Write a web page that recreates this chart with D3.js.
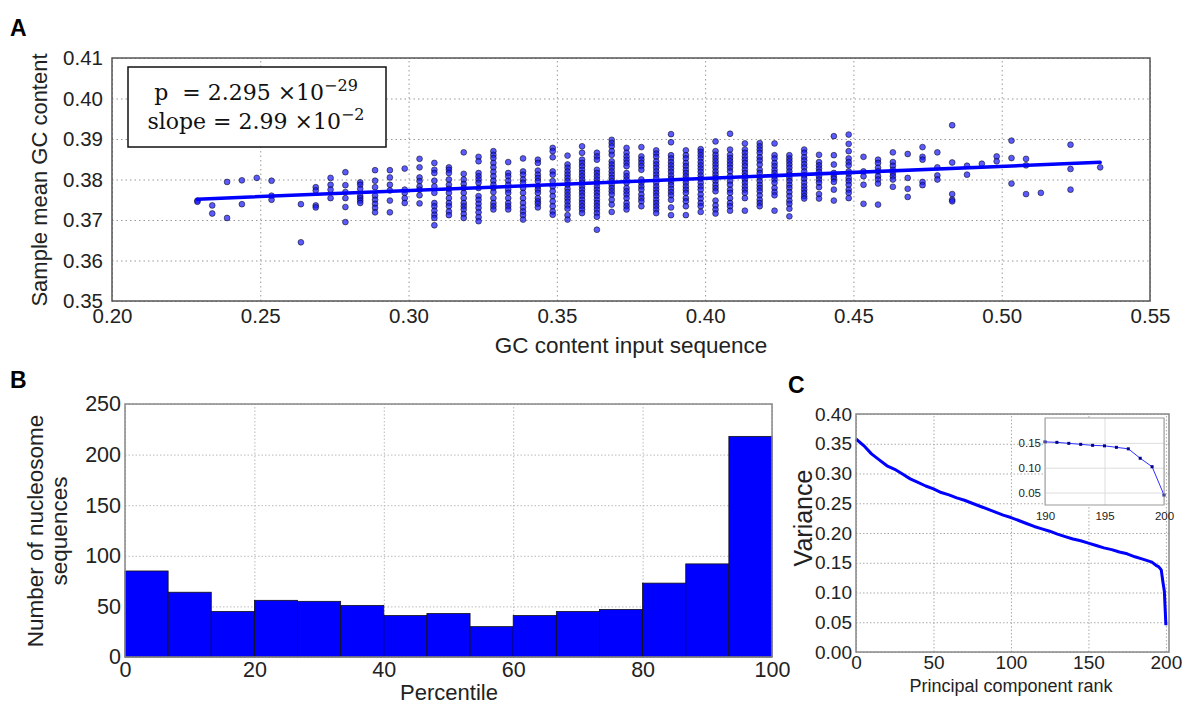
<!DOCTYPE html>
<html>
<head>
<meta charset="utf-8">
<script src="https://cdn.jsdelivr.net/npm/d3@7"></script>
<style>
  body { margin: 0; background: #fff; }
  svg { font-family: "Liberation Sans", Arial, sans-serif; }
</style>
</head>
<body>
<svg id="fig" width="1182" height="704"></svg>
<script>
// ---------- panel A: GC content of input vs sample mean GC (one column per input GC value)
const gcInput = [0.2288, 0.2338, 0.2388, 0.2438, 0.2488, 0.2538, 0.2637, 0.2687, 0.2737, 0.2787,
  0.2837, 0.2887, 0.2937, 0.2987, 0.3037, 0.3087, 0.3136, 0.3186, 0.3236, 0.3286,
  0.3336, 0.3386, 0.3436, 0.3486, 0.3536, 0.3585, 0.3635, 0.3685, 0.3735, 0.3785,
  0.3835, 0.3885, 0.3935, 0.3985, 0.4035, 0.4084, 0.4134, 0.4184, 0.4234, 0.4284,
  0.4334, 0.4384, 0.4434, 0.4484, 0.4534, 0.4583, 0.4633, 0.4683, 0.4733, 0.4783,
  0.4833, 0.4883, 0.4933, 0.4983, 0.5033, 0.5082, 0.5132, 0.5232, 0.5332]
const gcSample = [
  [0.3748, 0.3745],
  [0.3736, 0.3716],
  [0.3794, 0.3705],
  [0.3798, 0.3739],
  [0.3804],
  [0.3797, 0.3760, 0.3750],
  [0.3739, 0.3645],
  [0.3781, 0.3773, 0.3736, 0.3731],
  [0.3804, 0.3787, 0.3775, 0.3754],
  [0.3818, 0.3786, 0.3769, 0.3754, 0.3732, 0.3695],
  [0.3793, 0.3787, 0.3777, 0.3759, 0.3754, 0.3748, 0.3742],
  [0.3823, 0.3797, 0.3781, 0.3760, 0.3750, 0.3740, 0.3730, 0.3719],
  [0.3823, 0.3805, 0.3787, 0.3773, 0.3748, 0.3719],
  [0.3827, 0.3775, 0.3767, 0.3754, 0.3742],
  [0.3851, 0.3830, 0.3805, 0.3796, 0.3783, 0.3775, 0.3761, 0.3741],
  [0.3841, 0.3824, 0.3816, 0.3797, 0.3783, 0.3767, 0.3742, 0.3734, 0.3723, 0.3713, 0.3705, 0.3687],
  [0.3830, 0.3824, 0.3816, 0.3800, 0.3787, 0.3777, 0.3767, 0.3754, 0.3742, 0.3734, 0.3721, 0.3712],
  [0.3867, 0.3814, 0.3800, 0.3789, 0.3779, 0.3767, 0.3754, 0.3742, 0.3734, 0.3726, 0.3715, 0.3705],
  [0.3856, 0.3845, 0.3816, 0.3808, 0.3800, 0.3792, 0.3779, 0.3759, 0.3750, 0.3740, 0.3730, 0.3719, 0.3707, 0.3697],
  [0.3870, 0.3861, 0.3853, 0.3841, 0.3830, 0.3819, 0.3808, 0.3797, 0.3787, 0.3779, 0.3769, 0.3754, 0.3742, 0.3734, 0.3726],
  [0.3843, 0.3816, 0.3808, 0.3797, 0.3787, 0.3775, 0.3767, 0.3754, 0.3742, 0.3734, 0.3726],
  [0.3852, 0.3820, 0.3812, 0.3800, 0.3792, 0.3779, 0.3767, 0.3754, 0.3742, 0.3731, 0.3721, 0.3712, 0.3701],
  [0.3849, 0.3841, 0.3822, 0.3812, 0.3804, 0.3796, 0.3783, 0.3775, 0.3767, 0.3754, 0.3746, 0.3740, 0.3731],
  [0.3878, 0.3870, 0.3855, 0.3820, 0.3812, 0.3796, 0.3783, 0.3771, 0.3759, 0.3746, 0.3734, 0.3721, 0.3713],
  [0.3859, 0.3837, 0.3829, 0.3820, 0.3812, 0.3804, 0.3796, 0.3787, 0.3777, 0.3769, 0.3761, 0.3753, 0.3745, 0.3736, 0.3728, 0.3712, 0.3701],
  [0.3882, 0.3866, 0.3849, 0.3841, 0.3833, 0.3824, 0.3816, 0.3808, 0.3800, 0.3792, 0.3783, 0.3775, 0.3767, 0.3759, 0.3750, 0.3742, 0.3734, 0.3726, 0.3717],
  [0.3866, 0.3857, 0.3849, 0.3824, 0.3816, 0.3808, 0.3800, 0.3792, 0.3783, 0.3775, 0.3767, 0.3759, 0.3750, 0.3742, 0.3734, 0.3726, 0.3717, 0.3708, 0.3676],
  [0.3898, 0.3890, 0.3882, 0.3870, 0.3861, 0.3845, 0.3837, 0.3829, 0.3820, 0.3812, 0.3804, 0.3796, 0.3787, 0.3779, 0.3771, 0.3763, 0.3750, 0.3738, 0.3720],
  [0.3878, 0.3866, 0.3857, 0.3849, 0.3841, 0.3833, 0.3816, 0.3808, 0.3800, 0.3792, 0.3779, 0.3771, 0.3763, 0.3754, 0.3742, 0.3734, 0.3726],
  [0.3880, 0.3857, 0.3849, 0.3841, 0.3833, 0.3824, 0.3800, 0.3792, 0.3783, 0.3775, 0.3763, 0.3754, 0.3746, 0.3734],
  [0.3872, 0.3864, 0.3856, 0.3845, 0.3837, 0.3829, 0.3820, 0.3812, 0.3804, 0.3792, 0.3783, 0.3775, 0.3767, 0.3759, 0.3750, 0.3742, 0.3734, 0.3726, 0.3717],
  [0.3912, 0.3892, 0.3860, 0.3852, 0.3843, 0.3835, 0.3827, 0.3819, 0.3810, 0.3802, 0.3794, 0.3786, 0.3777, 0.3769, 0.3761, 0.3750, 0.3731, 0.3712],
  [0.3872, 0.3860, 0.3852, 0.3841, 0.3833, 0.3824, 0.3816, 0.3808, 0.3800, 0.3792, 0.3783, 0.3775, 0.3767, 0.3754, 0.3746, 0.3734, 0.3712],
  [0.3875, 0.3868, 0.3860, 0.3852, 0.3843, 0.3835, 0.3827, 0.3819, 0.3810, 0.3802, 0.3792, 0.3783, 0.3775, 0.3763, 0.3753, 0.3742, 0.3734, 0.3720],
  [0.3894, 0.3870, 0.3861, 0.3853, 0.3845, 0.3837, 0.3829, 0.3820, 0.3812, 0.3804, 0.3796, 0.3787, 0.3779, 0.3771, 0.3748, 0.3736, 0.3726, 0.3716],
  [0.3913, 0.3874, 0.3861, 0.3853, 0.3845, 0.3837, 0.3829, 0.3820, 0.3808, 0.3796, 0.3787, 0.3775, 0.3767, 0.3754, 0.3742, 0.3734, 0.3723],
  [0.3889, 0.3874, 0.3866, 0.3857, 0.3849, 0.3841, 0.3833, 0.3824, 0.3816, 0.3808, 0.3800, 0.3792, 0.3783, 0.3775, 0.3767, 0.3754, 0.3723],
  [0.3890, 0.3882, 0.3874, 0.3866, 0.3855, 0.3847, 0.3837, 0.3824, 0.3816, 0.3805, 0.3796, 0.3787, 0.3779, 0.3771, 0.3761, 0.3750, 0.3742, 0.3734],
  [0.3889, 0.3860, 0.3852, 0.3841, 0.3833, 0.3824, 0.3816, 0.3808, 0.3800, 0.3792, 0.3779, 0.3769, 0.3761, 0.3723],
  [0.3860, 0.3852, 0.3845, 0.3837, 0.3829, 0.3820, 0.3812, 0.3804, 0.3796, 0.3787, 0.3779, 0.3769, 0.3759, 0.3748, 0.3740, 0.3728, 0.3709],
  [0.3874, 0.3866, 0.3855, 0.3847, 0.3838, 0.3830, 0.3820, 0.3810, 0.3802, 0.3792, 0.3783, 0.3775, 0.3767, 0.3759, 0.3753],
  [0.3861, 0.3843, 0.3835, 0.3827, 0.3819, 0.3808, 0.3800, 0.3792, 0.3781, 0.3764, 0.3753],
  [0.3907, 0.3860, 0.3837, 0.3816, 0.3808, 0.3802, 0.3794, 0.3775, 0.3748],
  [0.3911, 0.3888, 0.3870, 0.3852, 0.3843, 0.3835, 0.3820, 0.3814, 0.3804, 0.3796, 0.3787, 0.3775, 0.3767, 0.3754],
  [0.3856, 0.3820, 0.3808, 0.3787, 0.3740],
  [0.3849, 0.3841, 0.3829, 0.3820, 0.3808, 0.3800, 0.3790, 0.3738],
  [0.3867, 0.3843, 0.3834, 0.3824, 0.3816, 0.3808, 0.3800, 0.3782],
  [0.3863, 0.3804, 0.3777, 0.3757],
  [0.3880, 0.3856, 0.3849, 0.3794, 0.3786],
  [0.3867, 0.3830, 0.3810, 0.3800],
  [0.3934, 0.3842, 0.3764, 0.3750, 0.3746],
  [0.3834, 0.3812],
  [0.3839],
  [0.3857, 0.3845],
  [0.3896, 0.3853, 0.3790],
  [0.3851, 0.3835, 0.3764],
  [0.3767],
  [0.3886, 0.3826, 0.3775],
  [0.3830]
]
const regSlope = 0.0299
const regIntercept = 0.3683
const aTicksX = [0.20, 0.25, 0.30, 0.35, 0.40, 0.45, 0.50, 0.55]
const aTicksY = [0.35, 0.36, 0.37, 0.38, 0.39, 0.40, 0.41]

// ---------- panel B: histogram over percentiles
const binEdges = [0, 6.667, 13.333, 20, 26.667, 33.333, 40, 46.667, 53.333, 60, 66.667, 73.333, 80, 86.667, 93.333, 100]
const binCounts = [85, 64, 45, 56, 55, 51, 41, 43, 30, 41, 45, 47, 73, 92, 218]
const bTicksX = [0, 20, 40, 60, 80, 100]
const bTicksY = [0, 50, 100, 150, 200, 250]

// ---------- panel C: variance by principal component rank
const pcRank = [0, 5, 10, 15, 20, 25, 30, 35, 40, 45, 50, 55, 60, 65, 70, 75, 80, 85, 90, 95,
  100, 105, 110, 115, 120, 125, 130, 135, 140, 145, 150, 155, 160, 165, 170, 175, 180, 185,
  190, 191, 192, 193, 194, 195, 196, 197, 198, 199, 200]
const pcVariance = [0.358, 0.347, 0.333, 0.323, 0.313, 0.307, 0.299, 0.291, 0.285, 0.279,
  0.274, 0.268, 0.264, 0.259, 0.255, 0.250, 0.245, 0.240, 0.235, 0.230,
  0.226, 0.221, 0.216, 0.211, 0.207, 0.203, 0.198, 0.194, 0.190, 0.187,
  0.183, 0.179, 0.175, 0.172, 0.168, 0.165, 0.160, 0.156,
  0.152, 0.151, 0.149, 0.147, 0.145, 0.144, 0.141, 0.138, 0.119, 0.102, 0.045]
const cTicksX = [0, 50, 100, 150, 200]
const cTicksY = [0, 0.05, 0.10, 0.15, 0.20, 0.25, 0.30, 0.35, 0.40]
const insetTicksX = [190, 195, 200]
const insetTicksY = [0.05, 0.10, 0.15]

const svg = d3.select("#fig")

// grid, frame and tick labels for one axes box
function drawAxes(g, x, y, o) {
    const [xl, xr] = x.range(), [yb, yt] = y.range()
    g.append("g").attr("transform", `translate(0,${yb})`)
        .call(d3.axisBottom(x).tickValues(o.xt).tickSize(-(yb - yt)).tickFormat(""))
        .call(s => s.select(".domain").remove())
        .selectAll("line").attr("stroke", o.grid).attr("stroke-dasharray", o.dash)
    g.append("g").attr("transform", `translate(${xl},0)`)
        .call(d3.axisLeft(y).tickValues(o.yt).tickSize(-(xr - xl)).tickFormat(""))
        .call(s => s.select(".domain").remove())
        .selectAll("line").attr("stroke", o.grid).attr("stroke-dasharray", o.dash)

    const ax = g.append("g").attr("transform", `translate(0,${yb})`)
        .call(d3.axisBottom(x).tickValues(o.xt).tickSize(0).tickPadding(o.padX).tickFormat(o.fx))
    ax.select(".domain").remove()
    ax.selectAll("text").attr("font-size", o.fs).attr("fill", "#222").attr("font-family", null)
    const ay = g.append("g").attr("transform", `translate(${xl},0)`)
        .call(d3.axisLeft(y).tickValues(o.yt).tickSize(0).tickPadding(o.padY).tickFormat(o.fy))
    ay.select(".domain").remove()
    ay.selectAll("text").attr("font-size", o.fs).attr("fill", "#222").attr("font-family", null)
}

function frame(g, x, y, color, w) {
    const [xl, xr] = x.range(), [yb, yt] = y.range()
    g.append("rect").attr("x", xl).attr("y", yt).attr("width", xr - xl).attr("height", yb - yt)
        .attr("fill", "none").attr("stroke", color).attr("stroke-width", w)
}

// ================= A =================
const xA = d3.scaleLinear().domain([0.20, 0.55]).range([112, 1150])
const yA = d3.scaleLinear().domain([0.35, 0.41]).range([301, 58])
const gA = svg.append("g")

drawAxes(gA, xA, yA, {xt: aTicksX, yt: aTicksY, grid: "#999", dash: "1.5,3", fs: 20.5,
    padX: 7, padY: 9, fx: d3.format(".2f"), fy: d3.format(".2f")})

let pointsA = []
gcInput.forEach((gx, i) => gcSample[i].forEach(v => pointsA.push({x: gx, y: v})))

gA.append("g").selectAll("circle")
    .data(pointsA)
    .enter()
    .append("circle")
    .attr("cx", d => xA(d.x))
    .attr("cy", d => yA(d.y))
    .attr("r", 2.9)
    .attr("fill", "#1a1aff")
    .attr("fill-opacity", 0.72)
    .attr("stroke", "#000")
    .attr("stroke-opacity", 0.75)
    .attr("stroke-width", 0.7)

const xMin = d3.min(gcInput), xMax = d3.max(gcInput)
gA.append("line")
    .attr("x1", xA(xMin)).attr("y1", yA(regIntercept + regSlope * xMin))
    .attr("x2", xA(xMax)).attr("y2", yA(regIntercept + regSlope * xMax))
    .attr("stroke", "#0000ff").attr("stroke-width", 3.5).attr("stroke-linecap", "round")

frame(gA, xA, yA, "#555", 1.5)

// stats box
gA.append("rect").attr("x", 128).attr("y", 67).attr("width", 258).attr("height", 80)
    .attr("fill", "#fff").attr("stroke", "#111").attr("stroke-width", 1.5)
const stat = gA.append("text")
    .attr("font-family", "'DejaVu Serif', serif").attr("font-size", 22)
    .attr("text-anchor", "middle").attr("fill", "#111").style("white-space", "pre")
stat.append("tspan").attr("x", 256).attr("y", 100).text("p  = 2.295 ×10")
stat.append("tspan").attr("dy", -9).attr("font-size", 16).text("−29")
stat.append("tspan").attr("x", 256).attr("y", 129).text("slope = 2.99 ×10")
stat.append("tspan").attr("dy", -9).attr("font-size", 16).text("−2")

gA.append("text").attr("transform", "translate(47,180) rotate(-90)")
    .attr("text-anchor", "middle").attr("font-size", 22).attr("fill", "#222")
    .text("Sample mean GC content")
gA.append("text").attr("x", 631).attr("y", 353)
    .attr("text-anchor", "middle").attr("font-size", 22.5).attr("fill", "#222")
    .text("GC content input sequence")

// ================= B =================
const xB = d3.scaleLinear().domain([0, 100]).range([125, 772])
const yB = d3.scaleLinear().domain([0, 250]).range([657, 404])
const gB = svg.append("g")

drawAxes(gB, xB, yB, {xt: bTicksX, yt: bTicksY, grid: "#bbb", dash: "1.5,2", fs: 21.5,
    padX: 5, padY: 4, fx: d3.format("d"), fy: d3.format("d")})

gB.append("g").selectAll("rect")
    .data(binCounts)
    .enter()
    .append("rect")
    .attr("x", (d, i) => xB(binEdges[i]))
    .attr("y", d => yB(d))
    .attr("width", (d, i) => xB(binEdges[i + 1]) - xB(binEdges[i]))
    .attr("height", d => yB(0) - yB(d))
    .attr("fill", "#0000ff")
    .attr("stroke", "#111")
    .attr("stroke-width", 0.8)

frame(gB, xB, yB, "#888", 1.5)

const labB = gB.append("text").attr("transform", "translate(0,531) rotate(-90)")
    .attr("text-anchor", "middle").attr("font-size", 22.5).attr("fill", "#222")
labB.append("tspan").attr("x", 0).attr("y", 43).text("Number of nucleosome")
labB.append("tspan").attr("x", 0).attr("y", 67).text("sequences")
gB.append("text").attr("x", 449).attr("y", 700)
    .attr("text-anchor", "middle").attr("font-size", 22).attr("fill", "#222")
    .text("Percentile")

// ================= C =================
const xC = d3.scaleLinear().domain([0, 202]).range([856, 1169])
const yC = d3.scaleLinear().domain([0, 0.40]).range([652, 414])
const gC = svg.append("g")

drawAxes(gC, xC, yC, {xt: cTicksX, yt: cTicksY, grid: "#aaa", dash: "1.5,2", fs: 19,
    padX: 3, padY: 4, fx: d3.format("d"), fy: d3.format(".2f")})

gC.append("path")
    .datum(pcRank.map((r, i) => [r, pcVariance[i]]))
    .attr("d", d3.line().x(d => xC(d[0])).y(d => yC(d[1])))
    .attr("fill", "none")
    .attr("stroke", "#0000ff")
    .attr("stroke-width", 3)
    .attr("stroke-linejoin", "round")

frame(gC, xC, yC, "#888", 1.5)

gC.append("text").attr("transform", "translate(812,518) rotate(-90)")
    .attr("text-anchor", "middle").attr("font-size", 25).attr("fill", "#222")
    .text("Variance")
gC.append("text").attr("x", 1011).attr("y", 692)
    .attr("text-anchor", "middle").attr("font-size", 18).attr("fill", "#222")
    .text("Principal component rank")

// inset: last ten components
const xI = d3.scaleLinear().domain([190, 200]).range([1045, 1164])
const yI = d3.scaleLinear().domain([0.025, 0.2]).range([505, 418])
const gI = svg.append("g")
gI.append("rect").attr("x", 1045).attr("y", 418).attr("width", 119).attr("height", 87).attr("fill", "#fff")
drawAxes(gI, xI, yI, {xt: insetTicksX, yt: insetTicksY, grid: "#ddd", dash: null, fs: 11.5,
    padX: 7, padY: 4, fx: d3.format("d"), fy: d3.format(".2f")})

const insetData = pcRank.map((r, i) => [r, pcVariance[i]]).filter(d => d[0] >= 190)
gI.append("path")
    .datum(insetData)
    .attr("d", d3.line().x(d => xI(d[0])).y(d => yI(d[1])))
    .attr("fill", "none").attr("stroke", "#3030ff").attr("stroke-width", 1)
gI.append("g").selectAll("rect")
    .data(insetData)
    .enter()
    .append("rect")
    .attr("x", d => xI(d[0]) - 1.5)
    .attr("y", d => yI(d[1]) - 1.5)
    .attr("width", 3).attr("height", 3)
    .attr("fill", "#000088")
frame(gI, xI, yI, "#999", 1)

// panel letters
svg.append("text").attr("x", 10).attr("y", 36).attr("font-size", 23).attr("font-weight", "bold").text("A")
svg.append("text").attr("x", 10).attr("y", 388).attr("font-size", 23).attr("font-weight", "bold").text("B")
svg.append("text").attr("x", 788).attr("y", 393).attr("font-size", 23).attr("font-weight", "bold").text("C")
</script>
</body>
</html>
